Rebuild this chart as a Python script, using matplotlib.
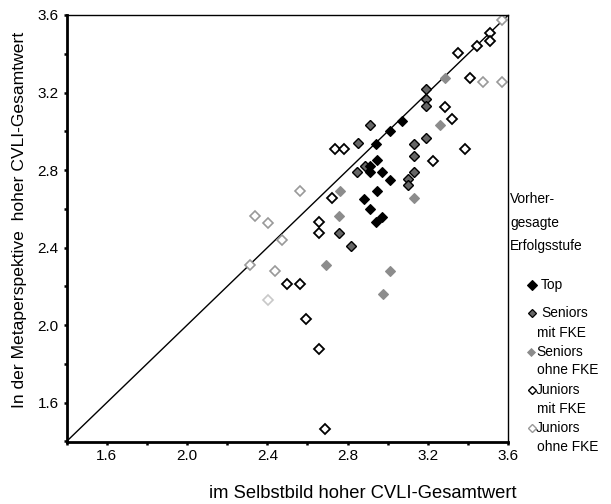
import matplotlib
matplotlib.use("Agg")
import matplotlib.pyplot as plt
from matplotlib.ticker import MultipleLocator, FixedLocator

plt.rcParams['font.family'] = ['Liberation Sans', 'DejaVu Sans']

# ---- data ----
top_x = [3.07, 3.01, 2.94, 2.945, 2.91, 2.91, 2.97, 3.01, 2.945, 2.88, 2.91, 2.97, 2.94]
top_y = [3.055, 3.0, 2.935, 2.85, 2.82, 2.79, 2.79, 2.75, 2.69, 2.65, 2.60, 2.56, 2.53]

sen_mit_x = [3.19, 3.19, 3.19, 3.19, 3.13, 3.13, 3.13, 3.10, 3.10, 2.91, 2.85, 2.885, 2.845, 2.755, 2.815]
sen_mit_y = [3.22, 3.165, 3.13, 2.967, 2.937, 2.874, 2.792, 2.754, 2.723, 3.033, 2.94, 2.82, 2.79, 2.474, 2.41]

sen_ohne_x = [3.285, 3.26, 3.13, 2.76, 2.755, 2.69, 3.01, 2.975]
sen_ohne_y = [3.277, 3.033, 2.655, 2.692, 2.564, 2.31, 2.282, 2.16]

jun_mit_x = [3.51, 3.51, 3.443, 3.35, 3.41, 3.285, 3.318, 3.385, 3.225, 2.735, 2.78,
             2.72, 2.655, 2.655, 2.50, 2.565, 2.595, 2.655, 2.685]
jun_mit_y = [3.507, 3.466, 3.44, 3.405, 3.277, 3.128, 3.062, 2.907, 2.847, 2.907, 2.907,
             2.655, 2.53, 2.474, 2.213, 2.213, 2.034, 1.876, 1.466]

jun_ohne_x = [3.57, 3.475, 3.57, 2.34, 2.405, 2.475, 2.315, 2.44, 2.565]
jun_ohne_y = [3.574, 3.254, 3.254, 2.565, 2.529, 2.437, 2.31, 2.282, 2.692]
jun_ohne_light_x = [2.405]
jun_ohne_light_y = [2.132]

x_ticks = [1.6, 2.0, 2.4, 2.8, 3.2, 3.6]
y_ticks = [1.6, 2.0, 2.4, 2.8, 3.2, 3.6]
axis_lim = [1.4, 3.6]

legend_title = ["Vorher-", "gesagte", "Erfolgsstufe"]
legend_labels = [["Top"], ["Seniors", "mit FKE"], ["Seniors", "ohne FKE"],
                 ["Juniors", "mit FKE"], ["Juniors", "ohne FKE"]]

# ---- figure ----
W, H = 611, 504
fig = plt.figure(figsize=(W/100, H/100), dpi=100)
L, R, T, B = 66.5, 508.3, 15, 441.5
ax = fig.add_axes([L/W, 1-B/H, (R-L)/W, (B-T)/H])

ax.plot(axis_lim, axis_lim, color='black', lw=1.0, zorder=1)

ms = 4.8
ax.plot(jun_ohne_x, jun_ohne_y, 'D', ms=ms, mfc='white', mec='#999999', mew=1.2, ls='none', zorder=2)
ax.plot(jun_ohne_light_x, jun_ohne_light_y, 'D', ms=ms, mfc='white', mec='#c8c8c8', mew=1.2, ls='none', zorder=2)
ax.plot(jun_mit_x, jun_mit_y, 'D', ms=ms, mfc='white', mec='black', mew=1.3, ls='none', zorder=3)
ax.plot(sen_ohne_x, sen_ohne_y, 'D', ms=ms + 0.6, mfc='#8c8c8c', mec='#8c8c8c', mew=0.8, ls='none', zorder=4)
ax.plot(sen_mit_x, sen_mit_y, 'D', ms=ms, mfc='#666666', mec='black', mew=1.0, ls='none', zorder=5)
ax.plot(top_x, top_y, 'D', ms=ms + 0.6, mfc='black', mec='black', mew=0.8, ls='none', zorder=6)

ax.set_xlim(axis_lim)
ax.set_ylim(axis_lim)
ax.xaxis.set_major_locator(FixedLocator(x_ticks))
ax.yaxis.set_major_locator(FixedLocator(y_ticks))
ax.xaxis.set_minor_locator(MultipleLocator(0.2))
ax.yaxis.set_minor_locator(MultipleLocator(0.2))
ax.set_xticklabels([f"{v:.1f}" for v in x_ticks])
ax.set_yticklabels([f"{v:.1f}" for v in y_ticks])
ax.tick_params(which='both', direction='out', length=2.5, width=1.8, labelsize=11, pad=3)

for side in ['left', 'bottom']:
    ax.spines[side].set_linewidth(2.0)
for side in ['top', 'right']:
    ax.spines[side].set_linewidth(1.0)

fig.text(362.5/W, 1-493/H, "im Selbstbild hoher CVLI-Gesamtwert", ha='center', va='center', fontsize=13.2)
fig.text(19.5/W, 1-220/H, "In der Metaperspektive  hoher CVLI-Gesamtwert", ha='center', va='center',
         rotation=90, fontsize=12.6)

# ---- legend (manual) ----
fs = 9.9
for i, line in enumerate(legend_title):
    fig.text(510/W, 1 - (199 + 23.5*i)/H, line, ha='left', va='center', fontsize=fs)

entries = [
    ([285], 532, 541, dict(mfc='black', mec='black', ms=5.0, mew=0.8)),
    ([313, 333], 532, 541, dict(mfc='#666666', mec='black', ms=4.0, mew=0.9)),
    ([352, 370], 531, 536, dict(mfc='#8c8c8c', mec='#8c8c8c', ms=3.8, mew=0.6)),
    ([390, 409], 532, 536, dict(mfc='white', mec='black', ms=3.8, mew=1.0)),
    ([428, 447], 532, 536, dict(mfc='white', mec='#999999', ms=3.8, mew=1.0)),
]
for (ys, mx, tx, style), lines in zip(entries, legend_labels):
    yf = 1 - ys[0]/H
    fig.lines.append(plt.Line2D([mx/W], [yf], marker='D', ls='none', transform=fig.transFigure, **style))
    fig.text(tx/W, yf, lines[0], ha='left', va='center', fontsize=fs)
    for py, r in zip(ys[1:], lines[1:]):
        fig.text(537/W, 1 - py/H, r, ha='left', va='center', fontsize=fs)

fig.savefig("out.png", dpi=100)
